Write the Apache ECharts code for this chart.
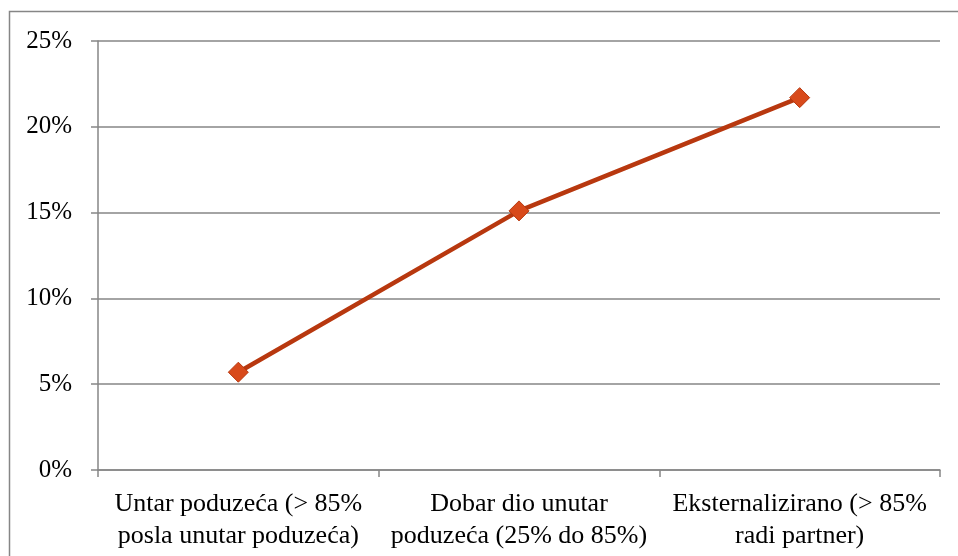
<!DOCTYPE html>
<html>
<head>
<meta charset="utf-8">
<script src="https://cdn.jsdelivr.net/npm/echarts@6/dist/echarts.min.js"></script>
<style>
  html, body { margin: 0; padding: 0; background: #ffffff; }
  #chart { width: 958px; height: 556px; }
</style>
</head>
<body>
<div id="chart"></div>
<script>
// Categories (wrapped onto two lines as shown under the axis)
var categories = [
  'Untar poduzeća (> 85%\nposla unutar poduzeća)',
  'Dobar dio unutar\npoduzeća (25% do 85%)',
  'Eksternalizirano (> 85%\nradi partner)'
];
// Share of respondents, in percent
var values = [5.7, 15.1, 21.7];
// Value axis range and step, in percent
var yMin = 0;
var yMax = 25;
var yStep = 5;

var axisGrey = '#868686';
var serif = '"Liberation Serif", "Times New Roman", serif';

var chart = echarts.init(document.getElementById('chart'), null, { renderer: 'canvas' });
chart.setOption({
  animation: false,
  backgroundColor: '#ffffff',
  graphic: [{
    type: 'rect',
    shape: { x: 9.5, y: 11.5, width: 1000, height: 1000 },
    style: { fill: 'none', stroke: '#868686', lineWidth: 1.5 },
    silent: true,
    z: -1
  }],
  grid: { left: 98, right: 18, top: 41, bottom: 86 },
  xAxis: {
    type: 'category',
    data: categories,
    boundaryGap: true,
    axisLine: { show: true, lineStyle: { color: axisGrey, width: 1.5 } },
    axisTick: { show: true, length: 7, lineStyle: { color: axisGrey, width: 1.5 } },
    axisLabel: {
      color: '#000000',
      fontFamily: serif,
      fontSize: 26,
      lineHeight: 32,
      margin: 18,
      interval: 0
    },
    splitLine: { show: false }
  },
  yAxis: {
    type: 'value',
    min: yMin,
    max: yMax,
    interval: yStep,
    axisLine: { show: true, lineStyle: { color: axisGrey, width: 1.5 } },
    axisTick: { show: true, length: 7, lineStyle: { color: axisGrey, width: 1.5 } },
    axisLabel: {
      color: '#000000',
      fontFamily: serif,
      fontSize: 25,
      margin: 26,
      formatter: '{value}%'
    },
    splitLine: { show: true, lineStyle: { color: axisGrey, width: 1.5 } }
  },
  series: [{
    type: 'line',
    data: values,
    symbol: 'diamond',
    symbolSize: 20,
    lineStyle: { color: '#B8380F', width: 4.5 },
    itemStyle: { color: '#D84A1B', borderColor: '#B8380F', borderWidth: 1 },
    z: 3
  }]
});
</script>
</body>
</html>
